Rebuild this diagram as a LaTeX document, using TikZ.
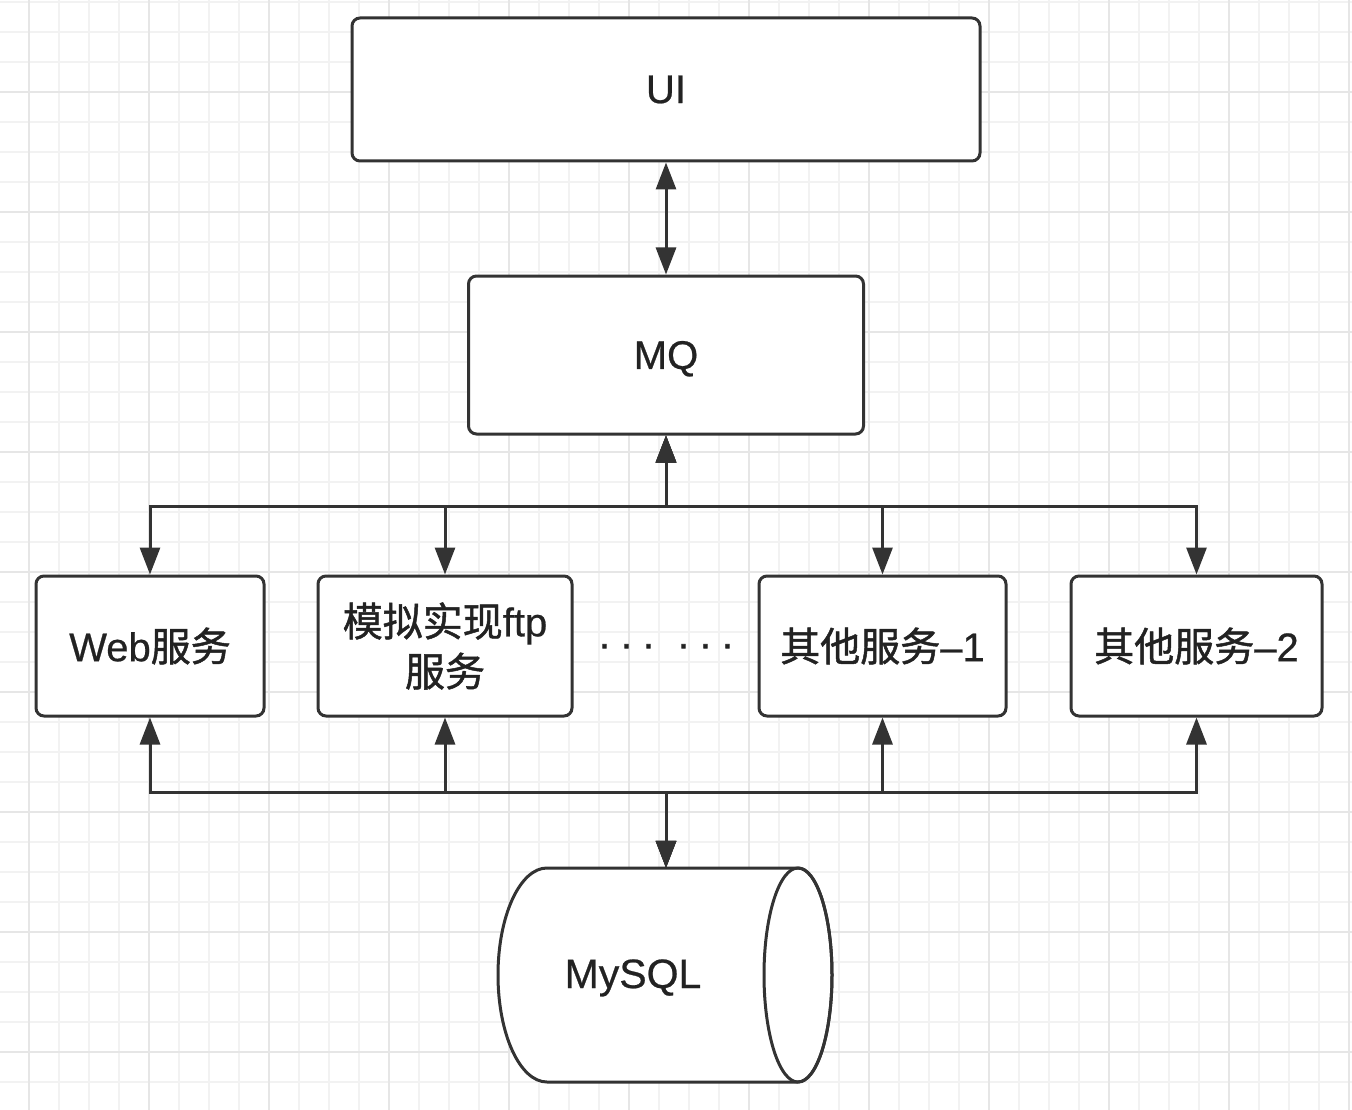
\documentclass[tikz,border=0pt]{standalone}
\usepackage{fontspec}
\setmainfont{Liberation Sans}[FakeBold=0.6]
\newfontfamily\cjk{Noto Sans CJK SC}[FakeBold=1.2]
\newfontfamily\dotfont{Liberation Sans}[FakeBold=2]
\usetikzlibrary{arrows.meta}
\definecolor{ln}{HTML}{333333}
\definecolor{tx}{HTML}{222222}
\definecolor{gmin}{HTML}{F2F2F2}
\definecolor{gmaj}{HTML}{E6E6E6}
\begin{document}
\begin{tikzpicture}[x=1pt,y=1pt,
  box/.style={draw=ln, line width=3pt, rounded corners=8pt, fill=white, text=tx,
    font=\fontsize{40}{50}\selectfont, align=center, inner sep=0pt},
  conn/.style={draw=ln, line width=3pt,
    {Triangle[length=27pt,width=20pt]}-{Triangle[length=27pt,width=20pt]}},
  gridmin/.style={draw=gmin, line width=1.5pt},
  gridmaj/.style={draw=gmaj, line width=2pt}]
\useasboundingbox (0,0) rectangle (1352,-1110);
\fill[white] (0,0) rectangle (1352,-1110);
% grid
\foreach \x in {-1,29,...,1352} \draw[gridmin] (\x,0) -- (\x,-1110);
\foreach \y in {2,32,...,1110} \draw[gridmin] (0,-\y) -- (1352,-\y);
\foreach \x in {29,149,...,1352} \draw[gridmaj] (\x,0) -- (\x,-1110);
\foreach \y in {92,212,...,1110} \draw[gridmaj] (0,-\y) -- (1352,-\y);
% boxes
\node[box, minimum width=628pt, minimum height=143pt] (ui) at (666,-89.5) {UI};
\node[box, minimum width=395pt, minimum height=158pt, text depth=0pt] (mq) at (666,-355) {MQ};
\node[box, minimum width=228pt, minimum height=140pt] (web) at (150,-646) {Web{\cjk 服务}};
\node[box, minimum width=254pt, minimum height=140pt] (ftp) at (445,-646) {{\cjk 模拟实现}ftp\\{\cjk 服务}};
\node[box, minimum width=247pt, minimum height=140pt] (o1) at (882.5,-646) {{\cjk 其他服务}–1};
\node[box, minimum width=251pt, minimum height=140pt] (o2) at (1196.5,-646) {{\cjk 其他服务}–2};
\node[text=tx, font=\dotfont\fontsize{36}{40}\selectfont, anchor=base, inner sep=0pt] (dots) at (666,-656) {· · ·\hspace{23pt}· · ·};
% database cylinder
\draw[draw=ln, line width=3pt, fill=white]
  (798,-868) -- (547,-868) arc[start angle=90, end angle=270, x radius=49, y radius=107]
  -- (798,-1082) arc[start angle=-90, end angle=90, x radius=34, y radius=107] -- cycle;
\draw[draw=ln, line width=3pt] (798,-975) ellipse[x radius=34, y radius=107];
\node[inner sep=0pt, minimum width=332pt, minimum height=214pt] (db) at (666,-975) {};
\node[text=tx, font=\fontsize{41}{50}\selectfont, inner sep=0pt, anchor=base] (dbl) at (633,-988) {MySQL};
% bus coordinates
\coordinate (bt) at (666,-506);
\coordinate (bb) at (666,-792);
% connectors
\draw[conn] (ui.south) -- (mq.north);
\draw[conn] (mq.south) -- (bt) -| (web.north);
\draw[conn] (mq.south) -- (bt) -| (ftp.north);
\draw[conn] (mq.south) -- (bt) -| (o1.north);
\draw[conn] (mq.south) -- (bt) -| (o2.north);
\draw[conn] (db.north) -- (bb) -| (web.south);
\draw[conn] (db.north) -- (bb) -| (ftp.south);
\draw[conn] (db.north) -- (bb) -| (o1.south);
\draw[conn] (db.north) -- (bb) -| (o2.south);
\end{tikzpicture}
\end{document}
